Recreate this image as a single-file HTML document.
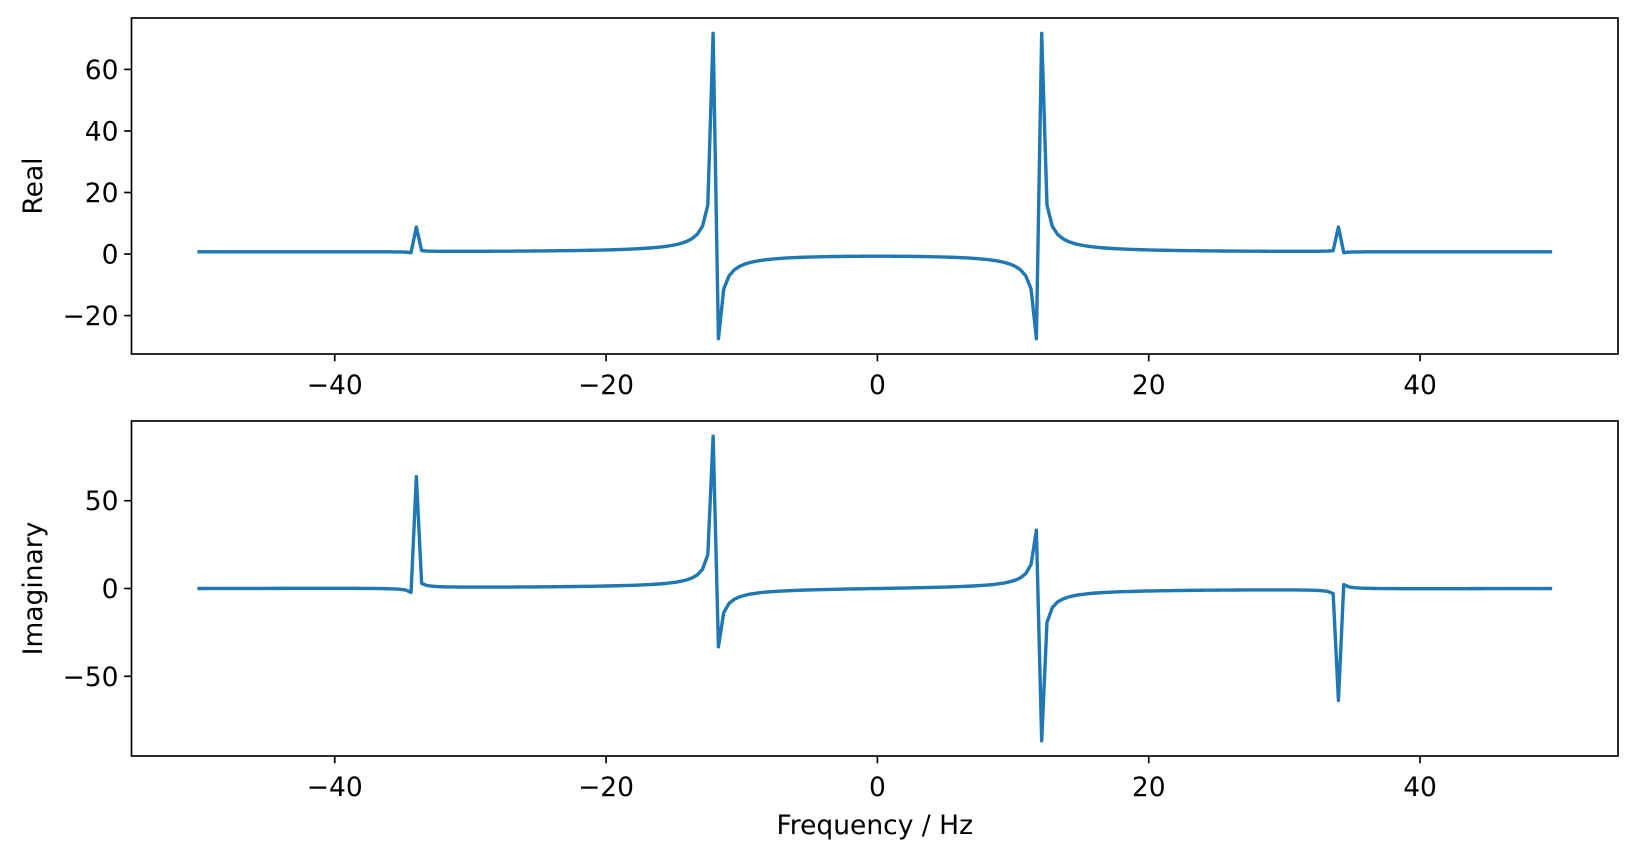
<!DOCTYPE html>
<html><head><meta charset="utf-8">
<style>
html,body{margin:0;padding:0;background:#fff;}
svg{display:block;font-family:"DejaVu Sans","Liberation Sans",sans-serif;}
</style></head>
<body>
<svg id="s" width="1638" height="858" xmlns="http://www.w3.org/2000/svg"></svg>
<script>
(function(){
var N=256, fs=100;
var x=[];
for(var n=0;n<N;n++){var t=n/fs;x.push(Math.cos(2*Math.PI*12*t)+0.5*Math.sin(2*Math.PI*34*t));}
var F=[],R=[],I=[];
for(var k=-128;k<128;k++){
  var kk=(k+N)%N,re=0,im=0;
  for(var n=0;n<N;n++){var a=-2*Math.PI*kk*n/N;re+=x[n]*Math.cos(a);im+=x[n]*Math.sin(a);}
  F.push(k*fs/N);R.push(re);I.push(im);
}
var L=131.5,Rt=1618,FS=26.5;
var xmin=-50,xmax=F[F.length-1],xr=xmax-xmin;
var xl=xmin-0.05*xr,xh=xmax+0.05*xr;
function X(f){return L+(f-xl)/(xh-xl)*(Rt-L);}
var svg=document.getElementById('s'),h='';
function panel(top,bot,Y,ticks,label,xlab){
  var mn=Math.min.apply(null,Y),mx=Math.max.apply(null,Y),r=mx-mn;
  var yl=mn-0.05*r,yh=mx+0.05*r;
  function Yp(v){return bot-(v-yl)/(yh-yl)*(bot-top);}
  var p='';
  for(var i=0;i<F.length;i++)p+=(i?'L':'M')+X(F[i]).toFixed(2)+' '+Yp(Y[i]).toFixed(2);
  h+='<path d="'+p+'" fill="none" stroke="#1f77b4" stroke-width="3.4" stroke-linejoin="round" stroke-linecap="square"/>';
  h+='<rect x="'+L+'" y="'+top+'" width="'+(Rt-L)+'" height="'+(bot-top)+'" fill="none" stroke="#000" stroke-width="1.67"/>';
  ticks.forEach(function(v){var y=Yp(v);
    h+='<line x1="'+L+'" x2="'+(L-7.3)+'" y1="'+y+'" y2="'+y+'" stroke="#000" stroke-width="1.67"/>';
    h+='<text x="'+(L-13)+'" y="'+(y+9.5)+'" font-size="'+FS+'" text-anchor="end">'+(v<0?'\u2212'+(-v):v)+'</text>';});
  [-40,-20,0,20,40].forEach(function(v){var xx=X(v);
    h+='<line x1="'+xx+'" x2="'+xx+'" y1="'+bot+'" y2="'+(bot+7.3)+'" stroke="#000" stroke-width="1.67"/>';
    h+='<text x="'+xx+'" y="'+(bot+40)+'" font-size="'+FS+'" text-anchor="middle">'+(v<0?'\u2212'+(-v):v)+'</text>';});
  var cy=(top+bot)/2;
  h+='<text x="42" y="'+cy+'" font-size="'+FS+'" text-anchor="middle" transform="rotate(-90 42 '+cy+')">'+label+'</text>';
  if(xlab)h+='<text x="'+((L+Rt)/2)+'" y="'+(bot+78)+'" font-size="'+FS+'" text-anchor="middle">'+xlab+'</text>';
}
panel(18,354,R,[-20,0,20,40,60],'Real','');
panel(421,756,I,[-50,0,50],'Imaginary','Frequency / Hz');
svg.innerHTML=h;
})();
</script>
</body></html>
